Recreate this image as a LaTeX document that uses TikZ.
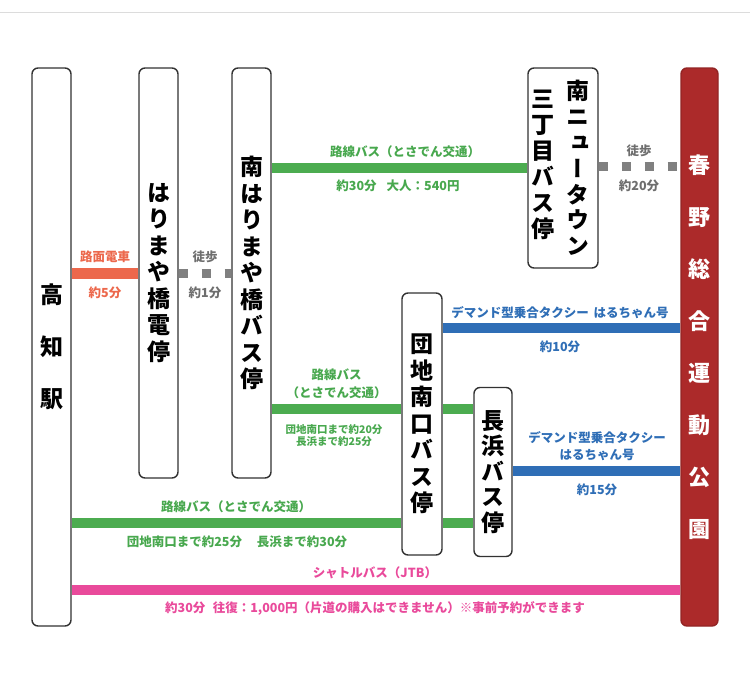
\documentclass[tikz,border=0pt]{standalone}
\usepackage{fontspec}
\usepackage{graphicx}
\setmainfont{Noto Sans CJK JP}
\newfontfamily\vjp{Noto Sans CJK JP}[RawFeature=+vert]
\definecolor{gr}{RGB}{76,172,80}
\definecolor{grt}{RGB}{72,168,78}
\definecolor{bl}{RGB}{47,110,182}
\definecolor{pk}{RGB}{233,74,155}
\definecolor{tram}{RGB}{236,104,76}
\definecolor{wk}{RGB}{128,128,128}
\definecolor{wkt}{RGB}{110,110,110}
\definecolor{parkred}{RGB}{172,42,42}
\definecolor{boxline}{RGB}{50,50,50}
\definecolor{rule}{RGB}{220,220,220}
\begin{document}
\begin{tikzpicture}[x=1pt,y=-1pt,
  stopbox/.style={draw=boxline,line width=1.4pt,rounded corners=6pt,fill=white,inner sep=0pt,align=center,
    font=\vjp\bfseries\fontsize{23}{26.5}\selectfont},
  tramline/.style={line width=11pt,draw=tram},
  busline/.style={line width=10pt,draw=gr},
  taxiline/.style={line width=10pt,draw=bl},
  shuttleline/.style={line width=10pt,draw=pk},
  walkline/.style={line width=9pt,draw=wk,dash pattern=on 9pt off 14pt},
  lab/.style={inner sep=0pt,align=center,font=\bfseries\fontsize{12.5}{17.5}\selectfont},
  smalllab/.style={inner sep=0pt,align=center,font=\bfseries\fontsize{10.5}{12}\selectfont}]
\useasboundingbox (0,0) rectangle (750,680);
\draw[rule,line width=1pt] (0,12) -- (750,12);

% stations
\node[stopbox,minimum width=39pt,minimum height=558pt,font=\vjp\bfseries\fontsize{23}{52}\selectfont] (kochi) at (51.5,347) {高\\知\\駅};
\node[stopbox,minimum width=39pt,minimum height=410pt] (hari) at (158.5,273) {は\\り\\ま\\や\\橋\\電\\停};
\node[stopbox,minimum width=39pt,minimum height=410pt] (minhari) at (251.5,273) {南\\は\\り\\ま\\や\\橋\\バ\\ス\\停};
\node[stopbox,minimum width=70pt,minimum height=200pt] (mnt) at (563,168) {};
\node[inner sep=0pt,align=center,font=\vjp\bfseries\fontsize{23}{25.8}\selectfont] (mntA) at (578,168) {南\\ニ\\ュ\\ー\\タ\\ウ\\ン};
\node[inner sep=0pt,align=center,font=\vjp\bfseries\fontsize{23}{26}\selectfont] (mntB) at (543,165) {三\\丁\\目\\バ\\ス\\停};
\node[stopbox,minimum width=40pt,minimum height=262pt] (danchi) at (422,424) {団\\地\\南\\口\\バ\\ス\\停};
\node[stopbox,minimum width=38pt,minimum height=169pt,font=\vjp\bfseries\fontsize{23}{25.5}\selectfont] (naga) at (493,472) {長\\浜\\バ\\ス\\停};
\node[stopbox,draw=parkred!85!black,fill=parkred,text=white,minimum width=37pt,minimum height=558pt,font=\vjp\bfseries\fontsize{22}{52}\selectfont] (park) at (699.5,347) {春\\野\\総\\合\\運\\動\\公\\園};

% levels
\coordinate (yT) at (0,273);
\coordinate (yB1) at (0,168);
\coordinate (yW2) at (0,166);
\coordinate (yX1) at (0,328);
\coordinate (yB2) at (0,409);
\coordinate (yX2) at (0,471);
\coordinate (yB3) at (0,523);
\coordinate (yS) at (0,590);

% connectors
\draw[tramline] (kochi.east |- yT) -- (hari.west |- yT);
\draw[walkline] (hari.east |- yT) -- (minhari.west |- yT);
\draw[busline] (minhari.east |- yB1) -- (mnt.west |- yB1);
\draw[walkline] (mnt.east |- yW2) -- (park.west |- yW2);
\draw[taxiline] (danchi.east |- yX1) -- (park.west |- yX1);
\draw[busline] (minhari.east |- yB2) -- (danchi.west |- yB2);
\draw[busline] (danchi.east |- yB2) -- (naga.west |- yB2);
\draw[taxiline] (naga.east |- yX2) -- (park.west |- yX2);
\draw[busline] (kochi.east |- yB3) -- (danchi.west |- yB3);
\draw[busline] (danchi.east |- yB3) -- (naga.west |- yB3);
\draw[shuttleline] (kochi.east |- yS) -- (park.west |- yS);

% labels
\node[lab,text=tram] (l1a) at (105,257) {路面電車};
\node[lab,text=tram] (l1b) at (105,293) {約5分};
\node[lab,text=wkt] (l2a) at (205,257) {徒歩};
\node[lab,text=wkt] (l2b) at (205,293) {約1分};
\node[lab,text=grt] (l3a) at (405,152) {路線バス（とさでん交通）};
\node[lab,text=grt] (l3b) at (398,186) {約30分\hspace{0.8em}大人：540円};
\node[lab,text=wkt] (l4a) at (639,151) {徒歩};
\node[lab,text=wkt] (l4b) at (639,186) {約20分};
\node[lab,text=bl] (l5a) at (560,313) {デマンド型乗合タクシー\hspace{0.4em}はるちゃん号};
\node[lab,text=bl] (l5b) at (560,347) {約10分};
\node[lab,text=grt] (l6a) at (336.5,384) {路線バス\\（とさでん交通）};
\node[smalllab,text=grt] (l6b) at (334,436) {団地南口まで約20分\\長浜まで約25分};
\node[lab,text=bl] (l7a) at (597,446) {デマンド型乗合タクシー\\はるちゃん号};
\node[lab,text=bl] (l7b) at (597,490) {約15分};
\node[lab,text=grt] (l8a) at (236,507) {路線バス（とさでん交通）};
\node[lab,text=grt] (l8b) at (237,542) {団地南口まで約25分\hspace{1.2em}長浜まで約30分};
\node[lab,text=pk] (l9a) at (375,573) {シャトルバス（JTB）};
\node[lab,text=pk] (l9b) at (375,608) {約30分\hspace{0.6em}往復：1,000円（片道の購入はできません）※事前予約ができます};
\end{tikzpicture}
\end{document}
